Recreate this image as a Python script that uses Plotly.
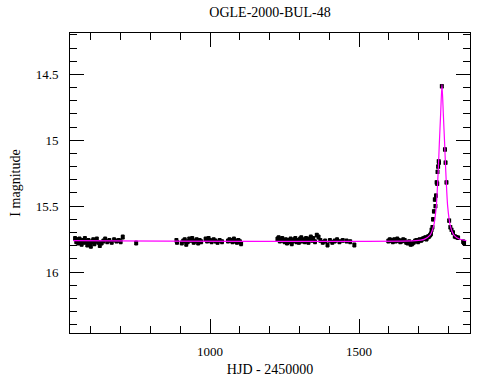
import plotly.graph_objects as go

# ---- photometry (HJD-2450000, I mag, error) ----
hjd_s1 = [547, 551, 555, 558, 562, 566, 569, 573, 577, 580, 584, 588, 592, 596, 600,
          604, 608, 612, 616, 620, 625, 630, 636, 642, 648, 655, 662, 670, 678, 686,
          694, 700, 707, 752]
mag_s1 = [15.745, 15.770, 15.755, 15.780, 15.750, 15.765, 15.790, 15.760, 15.775, 15.745,
          15.770, 15.795, 15.760, 15.780, 15.805, 15.770, 15.755, 15.785, 15.765, 15.750,
          15.775, 15.800, 15.780, 15.765, 15.750, 15.770, 15.760, 15.775, 15.755, 15.765,
          15.760, 15.770, 15.735, 15.780]

hjd_s2 = [887, 889, 905, 910, 915, 920, 925, 930, 935, 940, 945, 950, 955, 960, 965,
          970, 985, 990, 995, 1000, 1005, 1012, 1018, 1025, 1032, 1040, 1060, 1065,
          1070, 1075, 1080, 1085, 1090, 1095, 1100, 1104]
mag_s2 = [15.760, 15.775, 15.780, 15.765, 15.755, 15.790, 15.770, 15.750, 15.760, 15.745,
          15.775, 15.765, 15.755, 15.780, 15.760, 15.770, 15.750, 15.765, 15.745, 15.760,
          15.770, 15.755, 15.765, 15.775, 15.760, 15.770, 15.765, 15.755, 15.760, 15.770,
          15.750, 15.765, 15.775, 15.760, 15.770, 15.785]

hjd_s3 = [1226, 1230, 1234, 1238, 1242, 1246, 1250, 1254, 1258, 1262, 1266, 1270, 1274,
          1278, 1282, 1286, 1290, 1294, 1298, 1302, 1306, 1310, 1314, 1318, 1322, 1326,
          1330, 1334, 1338, 1342, 1346, 1352, 1358, 1364, 1370, 1378, 1386, 1394, 1402,
          1410, 1418, 1426, 1434, 1445, 1458, 1470, 1484]
mag_s3 = [15.750, 15.740, 15.765, 15.755, 15.745, 15.760, 15.770, 15.755, 15.780, 15.760,
          15.770, 15.750, 15.785, 15.765, 15.755, 15.745, 15.770, 15.760, 15.775, 15.750,
          15.740, 15.765, 15.755, 15.770, 15.745, 15.760, 15.775, 15.750, 15.735, 15.760,
          15.745, 15.770, 15.720, 15.735, 15.760, 15.775, 15.765, 15.795, 15.760, 15.775,
          15.765, 15.755, 15.770, 15.760, 15.765, 15.770, 15.795]

hjd_s4 = [1598, 1603, 1608, 1613, 1618, 1623, 1628, 1633, 1638, 1643, 1648, 1653, 1658,
          1663, 1668, 1673, 1678, 1683, 1688, 1693, 1698, 1703, 1708, 1713, 1718, 1722,
          1726, 1730, 1734, 1738, 1741]
mag_s4 = [15.765, 15.755, 15.760, 15.770, 15.755, 15.765, 15.750, 15.760, 15.770, 15.765,
          15.755, 15.760, 15.775, 15.780, 15.770, 15.790, 15.785, 15.775, 15.765, 15.760,
          15.770, 15.755, 15.760, 15.750, 15.745, 15.740, 15.750, 15.735, 15.730, 15.720,
          15.710]

hjd_ev = [1743, 1746, 1748, 1751, 1754, 1756, 1758, 1760, 1762, 1763, 1765, 1767, 1768,
          1777.5, 1788, 1790, 1793, 1802, 1806, 1810, 1815, 1821, 1826, 1832, 1849, 1852]
mag_ev = [15.680, 15.660, 15.600, 15.540, 15.450, 15.500, 15.420, 15.320, 15.330, 15.240,
          15.200, 15.160, 15.170, 14.590, 15.070, 15.170, 15.320, 15.610, 15.660, 15.680,
          15.700, 15.730, 15.735, 15.740, 15.770, 15.780]

err_base = 0.013
err_ev = 0.011

# ---- model curve ----
model_hjd = [541, 1690, 1718, 1738, 1750, 1759, 1766, 1769, 1773.5, 1778, 1782.5,
             1787, 1790, 1797, 1806, 1818, 1838, 1860]
model_mag = [15.762, 15.762, 15.752, 15.72, 15.65, 15.50, 15.20, 15.03, 14.80, 14.575,
             14.80, 15.03, 15.20, 15.50, 15.65, 15.72, 15.752, 15.762]

x_all = hjd_s1 + hjd_s2 + hjd_s3 + hjd_s4 + hjd_ev
y_all = mag_s1 + mag_s2 + mag_s3 + mag_s4 + mag_ev
e_all = [err_base] * (len(x_all) - len(hjd_ev)) + [err_ev] * len(hjd_ev)

FONT = "Liberation Serif"

fig = go.Figure()
fig.add_trace(go.Scatter(
    x=x_all, y=y_all, mode="markers",
    marker=dict(color="black", size=4, symbol="square", line=dict(width=0)),
    error_y=dict(type="data", array=e_all, color="black", thickness=1.5, width=1.5),
    showlegend=False, hoverinfo="skip"))
fig.add_trace(go.Scatter(
    x=model_hjd, y=model_mag, mode="lines",
    line=dict(color="#ff00ff", width=1.2, shape="spline", smoothing=0.6),
    showlegend=False, hoverinfo="skip"))

axis_common = dict(
    showline=True, linecolor="black", linewidth=1, mirror="allticks",
    showgrid=False, zeroline=False, ticks="inside", ticklen=14, tickwidth=1,
    tickcolor="black", tickfont=dict(family=FONT, size=13, color="black"),
    automargin=False,
)

fig.update_xaxes(
    range=[530, 1872], tick0=0, dtick=500,
    minor=dict(ticks="inside", ticklen=7, dtick=100, tick0=0, tickcolor="black",
               tickwidth=1, showgrid=False),
    title=dict(text="HJD - 2450000", font=dict(family=FONT, size=14, color="black"),
               standoff=6),
    ticklabelstandoff=6,
    **axis_common)
fig.update_yaxes(
    range=[16.463, 14.186],
    tickvals=[14.5, 15, 15.5, 16], ticktext=["14.5", "15", "15.5", "16"],
    minor=dict(ticks="inside", ticklen=7, dtick=0.1, tick0=0, tickcolor="black",
               tickwidth=1, showgrid=False),
    title=dict(text="I magnitude", font=dict(family=FONT, size=14, color="black"),
               standoff=11),
    ticklabelstandoff=8,
    **axis_common)

W, H = 490, 380
fig.update_layout(
    width=W, height=H,
    margin=dict(l=70, r=20, t=33, b=47),
    paper_bgcolor="white", plot_bgcolor="white",
    title=dict(text="OGLE-2000-BUL-48", x=270 / W, xanchor="center",
               y=1 - 12 / H, yanchor="middle",
               font=dict(family=FONT, size=14, color="black")),
)

# remove the default 8px page margin so the figure sits at the window origin
fig.write_html("out.html", config={"displayModeBar": False},
               post_script="document.body.style.margin='0px';")
